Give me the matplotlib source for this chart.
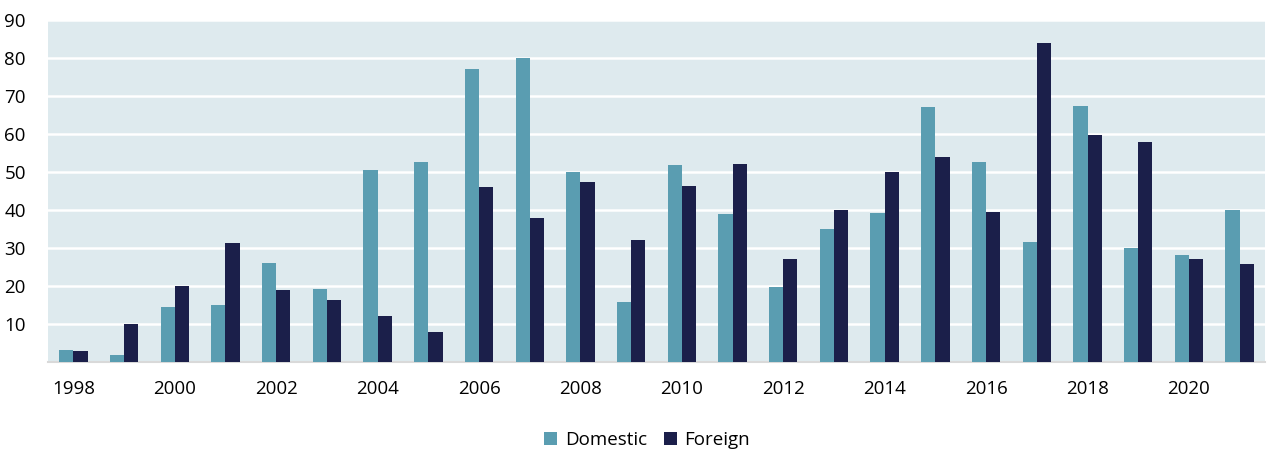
import numpy as np
import matplotlib.pyplot as plt

plt.rcParams['font.family'] = ['Open Sans', 'DejaVu Sans']

years = list(range(1998, 2022))
domestic = [3.2, 1.8, 14.4, 15.0, 26.0, 19.3, 50.4, 52.7, 77.1, 79.9, 49.9, 15.8,
            51.8, 39.0, 19.7, 35.1, 39.1, 67.0, 52.6, 31.7, 67.4, 30.1, 28.2, 40.0]
foreign = [3.0, 10.0, 20.0, 31.3, 19.0, 16.4, 12.0, 8.0, 46.0, 37.9, 47.3, 32.2,
           46.2, 52.2, 27.2, 40.0, 50.1, 54.0, 39.5, 83.9, 59.8, 57.9, 27.2, 25.8]

dom_color = '#5a9db1'
for_color = '#1b1f4a'

fig = plt.figure(figsize=(12.67, 4.5), dpi=100)
ax = fig.add_axes([48 / 1267, (450 - 362) / 450, (1265 - 48) / 1267, 342 / 450])
ax.set_facecolor('#deeaee')

x = np.arange(len(years))
w = 0.28
ax.bar(x - w / 2, domestic, w, color=dom_color, label='Domestic', zorder=3)
ax.bar(x + w / 2, foreign, w, color=for_color, label='Foreign', zorder=3)

ax.set_xlim(-0.5, len(years) - 0.5)
ax.set_ylim(0, 90)
ax.set_yticks(range(10, 100, 10))
ax.yaxis.grid(True, color='white', linewidth=1.8, zorder=1)
ax.set_axisbelow(True)

ax.set_xticks(x[::2])
ax.set_xticklabels([str(y) for y in years[::2]])
ax.tick_params(axis='both', length=0, labelsize=13.5, colors='black')
ax.tick_params(axis='x', pad=13)
ax.tick_params(axis='y', pad=16)

for s in ['top', 'right', 'left']:
    ax.spines[s].set_visible(False)
ax.spines['bottom'].set_color('#d9d9d9')
ax.spines['bottom'].set_linewidth(1.5)

fig.legend(loc='center', bbox_to_anchor=(647 / 1267, 1 - 440 / 450), ncol=2, frameon=False,
           fontsize=13.5, handlelength=0.7, handleheight=0.7, handletextpad=0.4,
           columnspacing=0.9)

fig.savefig('out.png', dpi=100)
